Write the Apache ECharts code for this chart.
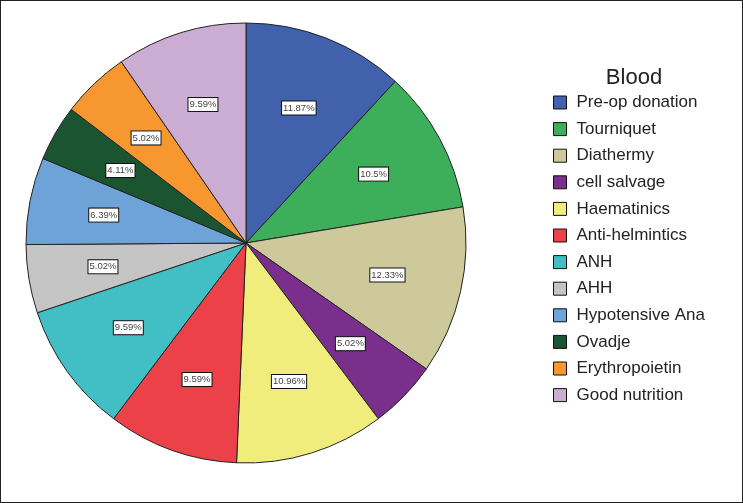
<!DOCTYPE html>
<html>
<head>
<meta charset="utf-8">
<script src="https://cdn.jsdelivr.net/npm/echarts@6/dist/echarts.min.js"></script>
<style>
  html, body { margin: 0; padding: 0; background: #fff; }
  #grafica { width: 743px; height: 503px; box-sizing: border-box; border: 1px solid #222; }
</style>
</head>
<body>
<div id="grafica"></div>
<script>
const categories = [
  "Pre-op donation", "Tourniquet", "Diathermy", "cell salvage", "Haematinics",
  "Anti-helmintics", "ANH", "AHH", "Hypotensive Ana", "Ovadje",
  "Erythropoietin", "Good nutrition",
];
const percents = [11.87, 10.5, 12.33, 5.02, 10.96, 9.59, 9.59, 5.02, 6.39, 4.11, 5.02, 9.59];
const colores = [
  "#4161ad", "#3daf5b", "#cdc99b", "#7b2f8d", "#f1ed7d", "#ec4148",
  "#42bfc4", "#c5c5c5", "#6ea3d8", "#1b5431", "#f6982f", "#cbadd4",
];

const pieData = categories.map((name, i) => ({
  name: name,
  value: percents[i],
  itemStyle: { color: colores[i] },
}));

const option = {
  animation: false,
  title: {
    text: "Blood",
    left: 628,
    top: 61,
    textAlign: "center",
    textStyle: { fontFamily: "Arial, Liberation Sans", fontSize: 22, fontWeight: "normal", color: "#222" },
  },
  legend: {
    orient: "vertical",
    left: 547,
    top: 88,
    itemWidth: 13,
    itemHeight: 13,
    itemGap: 9.6,
    icon: "rect",
    data: categories,
    itemStyle: { borderColor: "#111", borderWidth: 1 },
    textStyle: { fontFamily: "Arial, Liberation Sans", fontSize: 17, color: "#222", padding: [0, 0, 0, 5] },
    selectedMode: false,
  },
  series: [
    {
      type: "pie",
      center: [245, 242],
      radius: [0, 220],
      startAngle: 90,
      clockwise: true,
      data: pieData,
      label: { show: false },
      labelLine: { show: false },
      itemStyle: { borderColor: "#222", borderWidth: 1 },
      emphasis: { disabled: true },
    },
    {
      // serie invisible solo para poner las etiquetas a ~64% del radio
      type: "pie",
      center: [245, 242],
      radius: [104, 180],
      startAngle: 90,
      clockwise: true,
      silent: true,
      data: pieData.map((d) => ({ name: d.name, value: d.value, itemStyle: { color: "transparent" } })),
      itemStyle: { borderWidth: 0 },
      label: {
        show: true,
        position: "inside",
        formatter: (p) => p.value + "%",
        fontFamily: "Arial, Liberation Sans",
        fontSize: 9.5,
        color: "#444",
        backgroundColor: "#fff",
        borderColor: "#111",
        borderWidth: 1,
        padding: [2, 1, 1, 1],
      },
      labelLine: { show: false },
      emphasis: { disabled: true },
    },
  ],
};

const myChart = echarts.init(document.querySelector("#grafica"));
myChart.setOption(option);
</script>
</body>
</html>
